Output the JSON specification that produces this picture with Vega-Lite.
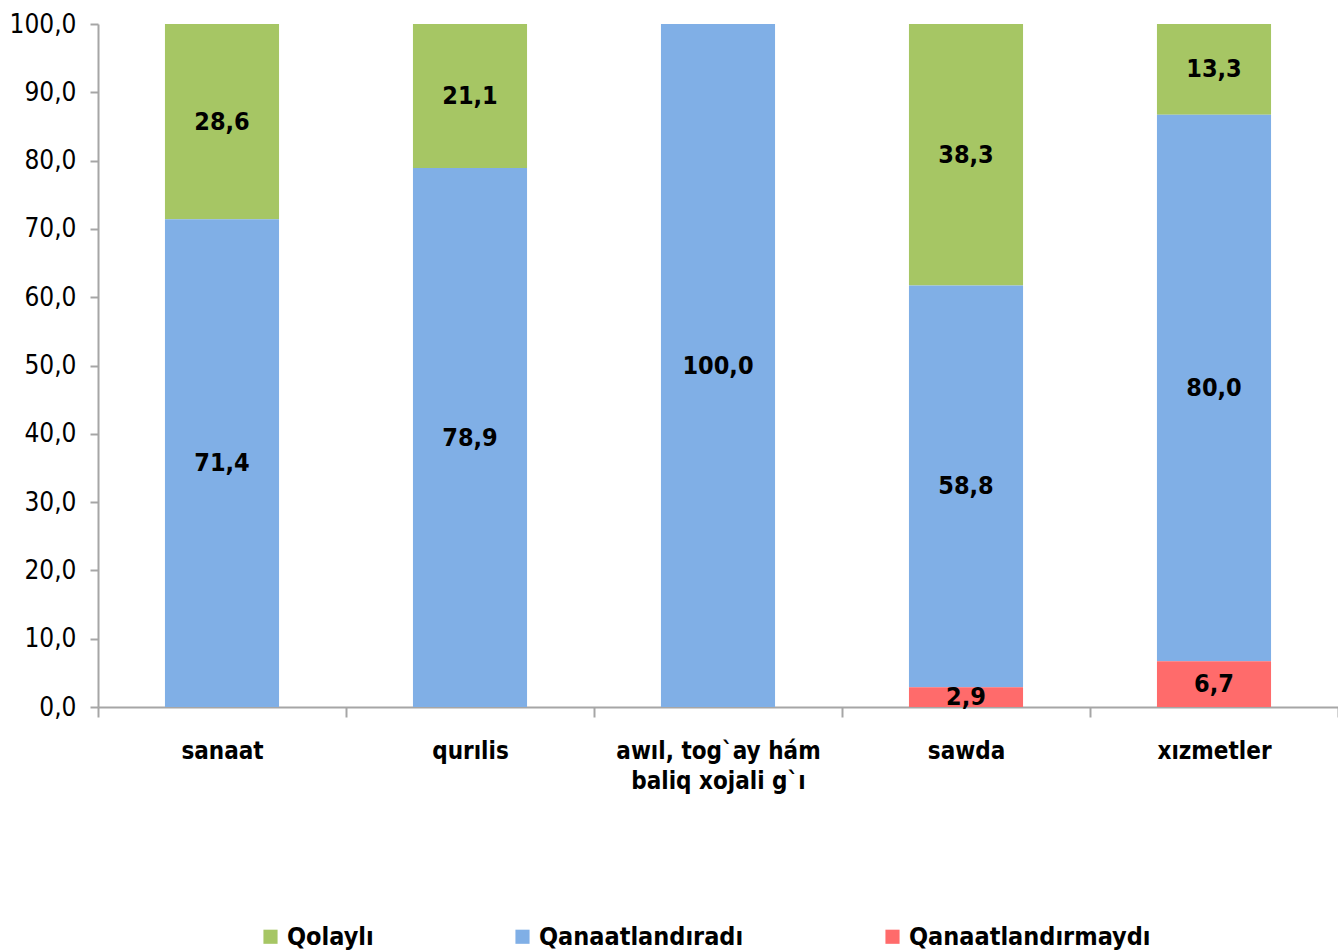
{
  "$schema": "https://vega.github.io/schema/vega-lite/v6.json",
  "autosize": {"type": "none"},
  "padding": {"left": 98, "top": 24, "right": 0, "bottom": 244},
  "width": 1240,
  "height": 683,
  "background": "white",
  "config": {
    "view": {"stroke": null},
    "font": "Liberation Sans Narrow, DejaVu Sans Condensed, sans-serif",
    "locale": {"number": {"decimal": ",", "thousands": " ", "grouping": [3], "currency": ["", ""]}}
  },
  "data": {
    "values": [
      {"cat": "sanaat", "group": "Qolaylı", "value": 28.6},
      {"cat": "sanaat", "group": "Qanaatlandıradı", "value": 71.4},
      {"cat": "qurılis", "group": "Qolaylı", "value": 21.1},
      {"cat": "qurılis", "group": "Qanaatlandıradı", "value": 78.9},
      {"cat": "awıl, tog`ay hám baliq xojali g`ı", "group": "Qanaatlandıradı", "value": 100.0},
      {"cat": "sawda", "group": "Qolaylı", "value": 38.3},
      {"cat": "sawda", "group": "Qanaatlandıradı", "value": 58.8},
      {"cat": "sawda", "group": "Qanaatlandırmaydı", "value": 2.9},
      {"cat": "xızmetler", "group": "Qolaylı", "value": 13.3},
      {"cat": "xızmetler", "group": "Qanaatlandıradı", "value": 80.0},
      {"cat": "xızmetler", "group": "Qanaatlandırmaydı", "value": 6.7}
    ]
  },
  "transform": [
    {"calculate": "indexof(['Qanaatlandırmaydı','Qanaatlandıradı','Qolaylı'], datum.group)", "as": "k"},
    {"stack": "value", "groupby": ["cat"], "sort": [{"field": "k", "order": "ascending"}], "as": ["v0", "v1"]},
    {"calculate": "(datum.v0 + datum.v1) / 2", "as": "mid"}
  ],
  "encoding": {
    "x": {
      "field": "cat",
      "type": "nominal",
      "sort": ["sanaat", "qurılis", "awıl, tog`ay hám baliq xojali g`ı", "sawda", "xızmetler"],
      "scale": {"paddingInner": 0, "paddingOuter": 0},
      "axis": {
        "title": null,
        "labelAngle": 0,
        "tickBand": "extent",
        "labelExpr": "datum.value == 'awıl, tog`ay hám baliq xojali g`ı' ? ['awıl, tog`ay  hám', 'baliq xojali g`ı'] : datum.label",
        "labelFont": "Liberation Sans Narrow, DejaVu Sans Condensed, sans-serif",
        "labelFontSize": 24,
        "labelFontWeight": "bold",
        "labelColor": "black",
        "labelLimit": 400,
        "labelPadding": 22,
        "labelLineHeight": 30,
        "labelBaseline": "top",
        "domainColor": "#a6a6a6",
        "domainWidth": 2,
        "tickColor": "#a6a6a6",
        "tickWidth": 2,
        "tickSize": 10,
        "grid": false
      }
    }
  },
  "layer": [
    {
      "mark": {"type": "bar", "width": {"band": 0.46}},
      "encoding": {
        "y": {
          "field": "v0",
          "type": "quantitative",
          "scale": {"domain": [0, 100]},
          "axis": {
            "title": null,
            "values": [0, 10, 20, 30, 40, 50, 60, 70, 80, 90, 100],
            "format": ".1f",
            "labelFont": "Liberation Sans Narrow, DejaVu Sans Condensed, sans-serif",
            "labelFontSize": 26,
            "labelColor": "black",
            "labelPadding": 14,
            "domainColor": "#a6a6a6",
            "domainWidth": 2,
            "tickColor": "#a6a6a6",
            "tickWidth": 2,
            "tickSize": 8,
            "grid": false
          }
        },
        "y2": {"field": "v1"},
        "color": {
          "field": "group",
          "type": "nominal",
          "scale": {
            "domain": ["Qolaylı", "Qanaatlandıradı", "Qanaatlandırmaydı"],
            "range": ["#a6c664", "#80afe6", "#ff6b6b"]
          },
          "legend": {
            "title": null,
            "orient": "none",
            "legendX": 160,
            "legendY": 900,
            "direction": "horizontal",
            "symbolType": "square",
            "symbolSize": 200,
            "symbolStrokeWidth": 0,
            "labelFont": "Liberation Sans Narrow, DejaVu Sans Condensed, sans-serif",
            "labelFontSize": 25,
            "labelFontWeight": "bold",
            "labelColor": "black",
            "labelLimit": 400,
            "columnPadding": 136
          }
        }
      }
    },
    {
      "mark": {"type": "text", "fontSize": 25, "fontWeight": "bold", "color": "black", "baseline": "middle"},
      "encoding": {
        "y": {"field": "mid", "type": "quantitative"},
        "text": {"field": "value", "type": "quantitative", "format": ".1f"}
      }
    }
  ]
}
